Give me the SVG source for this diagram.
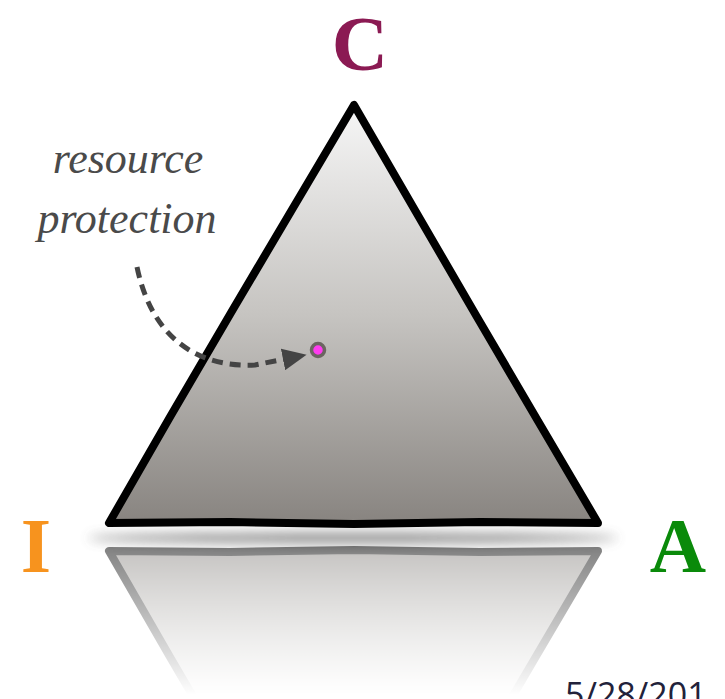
<svg xmlns="http://www.w3.org/2000/svg" width="725" height="699" viewBox="0 0 725 699">
  <style>
    .vertex { font-family: "Liberation Serif", "DejaVu Serif", serif; font-weight: bold; font-size: 78px; text-anchor: middle; }
    .note { font-family: "Liberation Serif", "DejaVu Serif", serif; font-style: italic; font-size: 44px; fill: #4a4a4a; text-anchor: middle; }
    .date { font-family: "Open Sans", "DejaVu Sans", sans-serif; font-size: 34px; fill: #22223a; }
    .edge { stroke: #000; stroke-width: 8; stroke-linejoin: round; stroke-linecap: round; }
    .flow { fill: none; stroke: #444; stroke-width: 5; stroke-dasharray: 11 7; }
  </style>
  <defs>
    <linearGradient id="triFill" gradientUnits="userSpaceOnUse" x1="0" y1="105" x2="0" y2="523">
      <stop offset="0" stop-color="#f6f6f6"/>
      <stop offset="0.5" stop-color="#c6c4c1"/>
      <stop offset="1" stop-color="#888480"/>
    </linearGradient>
    <linearGradient id="fadeGrad" gradientUnits="userSpaceOnUse" x1="0" y1="545" x2="0" y2="695">
      <stop offset="0" stop-color="#fff" stop-opacity="0.5"/>
      <stop offset="1" stop-color="#fff" stop-opacity="0"/>
    </linearGradient>
    <mask id="fade" maskUnits="userSpaceOnUse" x="0" y="530" width="725" height="169">
      <rect x="0" y="530" width="725" height="169" fill="url(#fadeGrad)"/>
    </mask>
    <filter id="soft" x="-20%" y="-400%" width="140%" height="900%">
      <feGaussianBlur stdDeviation="6"/>
    </filter>
    <marker id="head" viewBox="0 0 24 22" refX="2" refY="11" markerWidth="24" markerHeight="22" markerUnits="userSpaceOnUse" orient="auto">
      <path d="M0,0 L24,11 L0,22 z" fill="#444"/>
    </marker>
    <path id="tri" d="M354,105 L290,213 L232,311 L170,417 L109,523 L230,522 L354,524 L480,522 L598,523 L538,421 L477,317 L416,212 Z"/>
  </defs>

  <!-- ground shadow under the base -->
  <ellipse cx="353" cy="538" rx="265" ry="5" fill="#555" opacity="0.7" filter="url(#soft)"/>

  <!-- mirrored reflection, fading downward -->
  <g id="reflection" mask="url(#fade)">
    <use href="#tri" transform="translate(0,1074) scale(1,-1)" fill="url(#triFill)" class="edge"/>
  </g>

  <!-- main triangle -->
  <g id="triangle">
    <use href="#tri" fill="url(#triFill)" class="edge"/>
  </g>

  <!-- vertex labels -->
  <g id="node-C"><text class="vertex" x="360" y="70" fill="#8b1a53">C</text></g>
  <g id="node-I"><text class="vertex" x="36" y="572" fill="#f7931e">I</text></g>
  <g id="node-A"><text class="vertex" x="678" y="572" fill="#0a8a0a">A</text></g>

  <!-- annotation -->
  <g id="note">
    <text class="note" x="128" y="173">resource</text>
    <text class="note" x="127" y="233">protection</text>
  </g>

  <!-- target point -->
  <g id="point">
    <circle cx="318" cy="350" r="6.5" fill="#ff3cf0" stroke="#6b6561" stroke-width="3.5"/>
  </g>

  <!-- connector -->
  <g id="connectors">
    <path class="flow" d="M137,267 C150,330 190,368 255,365 L285,359" marker-end="url(#head)"/>
  </g>

  <text class="date" x="565" y="707">5/28/201</text>
</svg>
